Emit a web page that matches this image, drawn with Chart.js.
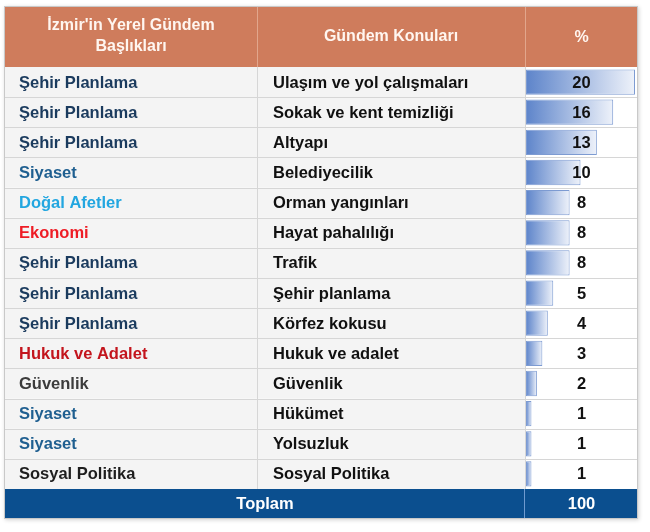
<!DOCTYPE html>
<html>
<head>
<meta charset="utf-8">
<script src="https://cdn.jsdelivr.net/npm/chart.js@4.4.1/dist/chart.umd.min.js"></script>
<style>
  html, body { margin: 0; padding: 0; background: #ffffff; }
  #wrap { width: 650px; height: 532px; }
</style>
</head>
<body>
<div id="wrap"><canvas id="c" width="650" height="532"></canvas></div>
<script>
// ---- data ----
const headers = ["İzmir'in Yerel Gündem\nBaşlıkları", "Gündem Konuları", "%"];
const topics = ["Şehir Planlama", "Şehir Planlama", "Şehir Planlama", "Siyaset", "Doğal Afetler", "Ekonomi", "Şehir Planlama", "Şehir Planlama", "Şehir Planlama", "Hukuk ve Adalet", "Güvenlik", "Siyaset", "Siyaset", "Sosyal Politika"];
const subjects = ["Ulaşım ve yol çalışmaları", "Sokak ve kent temizliği", "Altyapı", "Belediyecilik", "Orman yangınları", "Hayat pahalılığı", "Trafik", "Şehir planlama", "Körfez kokusu", "Hukuk ve adalet", "Güvenlik", "Hükümet", "Yolsuzluk", "Sosyal Politika"];
const percents = [20, 16, 13, 10, 8, 8, 8, 5, 4, 3, 2, 1, 1, 1];
const totalLabel = "Toplam";
const totalValue = 100;

// ---- styles ----
const topicColor = {
  "Şehir Planlama": "#1B3B5E",
  "Siyaset": "#1F5F90",
  "Doğal Afetler": "#22A6E0",
  "Ekonomi": "#EE1C25",
  "Hukuk ve Adalet": "#C3151D",
  "Güvenlik": "#3C3C3C",
  "Sosyal Politika": "#1E1E1E"
};
const FONT = 'bold 16.5px "Liberation Sans", Arial, sans-serif';
const HFONT = 'bold 16px "Liberation Sans", Arial, sans-serif';
const COL = { L: 5, C1: 257, C2: 525, R: 637 };
const HEAD_TOP = 7;
const TOTAL_H = 29;

const rowLabels = subjects.map((s, i) => i);

const tablePlugin = {
  id: 'tablePlugin',
  beforeDraw(chart) {
    const c = chart.ctx;
    const y = chart.scales.y;
    const n = rowLabels.length;
    const rowH = (y.bottom - y.top) / n;
    const top = y.top, bottom = y.bottom;
    c.save();
    c.fillStyle = '#ffffff';
    c.fillRect(0, 0, chart.width, chart.height);
    // frame with soft shadow
    c.save();
    c.shadowColor = 'rgba(0,0,0,0.18)';
    c.shadowBlur = 4;
    c.shadowOffsetX = 1;
    c.shadowOffsetY = 1;
    c.fillStyle = '#ffffff';
    c.fillRect(COL.L - 1, HEAD_TOP - 1, COL.R - COL.L + 2, bottom + TOTAL_H - HEAD_TOP + 2);
    c.restore();
    // header
    c.fillStyle = '#CF7C5C';
    c.fillRect(COL.L, HEAD_TOP, COL.R - COL.L, top - HEAD_TOP);
    // body rows
    for (let i = 0; i < n; i++) {
      const rt = y.getPixelForValue(i) - rowH / 2;
      c.fillStyle = '#F4F4F4';
      c.fillRect(COL.L, rt, COL.C2 - COL.L, rowH);
      c.fillStyle = '#FFFFFF';
      c.fillRect(COL.C2, rt, COL.R - COL.C2, rowH);
    }
    // total row
    c.fillStyle = '#0B4F8F';
    c.fillRect(COL.L, bottom, COL.R - COL.L, TOTAL_H);
    // grid lines body
    c.strokeStyle = '#D6D6D6';
    c.lineWidth = 1;
    c.beginPath();
    for (let i = 1; i < n; i++) {
      const yy = Math.round(y.getPixelForValue(i) - rowH / 2) + 0.5;
      c.moveTo(COL.L, yy); c.lineTo(COL.R, yy);
    }
    [COL.C1, COL.C2].forEach(x => {
      c.moveTo(x + 0.5, top); c.lineTo(x + 0.5, bottom);
    });
    c.stroke();
    // header separators
    c.strokeStyle = '#E2A68C';
    c.beginPath();
    [COL.C1, COL.C2].forEach(x => {
      c.moveTo(x + 0.5, HEAD_TOP); c.lineTo(x + 0.5, top);
    });
    c.stroke();
    // total separator
    c.strokeStyle = '#6F9BD0';
    c.beginPath();
    c.moveTo(COL.C2 - 0.5, bottom); c.lineTo(COL.C2 - 0.5, bottom + TOTAL_H);
    c.stroke();
    // outer border
    c.strokeStyle = '#C9C9C9';
    c.strokeRect(COL.L - 0.5, HEAD_TOP - 0.5, COL.R - COL.L + 1, bottom + TOTAL_H - HEAD_TOP + 1);
    c.restore();
  },
  afterDatasetsDraw(chart) {
    const c = chart.ctx;
    const y = chart.scales.y;
    const top = y.top, bottom = y.bottom;
    const c3 = (COL.C2 + COL.R) / 2 + 0.5;
    c.save();
    c.textBaseline = 'middle';
    // header text
    c.font = HFONT;
    c.fillStyle = '#FFF6F0';
    c.textAlign = 'center';
    const h1 = headers[0].split('\n');
    c.fillText(h1[0], (COL.L + COL.C1) / 2, 26);
    c.fillText(h1[1], (COL.L + COL.C1) / 2, 47);
    c.fillText(headers[1], (COL.C1 + COL.C2) / 2, 37);
    c.fillText(headers[2], c3, 38);
    // body
    c.font = FONT;
    rowLabels.forEach((r, i) => {
      const cy = y.getPixelForValue(i) + 1;
      c.textAlign = 'left';
      c.fillStyle = topicColor[topics[i]] || '#000';
      c.fillText(topics[i], 19, cy);
      c.fillStyle = '#111111';
      c.fillText(subjects[i], 273, cy);
      c.textAlign = 'center';
      c.fillText(String(percents[i]), c3, cy);
    });
    // total
    c.fillStyle = '#FFFFFF';
    c.textAlign = 'center';
    c.fillText(totalLabel, (COL.L + COL.C2) / 2, bottom + TOTAL_H / 2 + 1);
    c.fillText(String(totalValue), c3, bottom + TOTAL_H / 2 + 1);
    c.restore();
  }
};

new Chart(document.getElementById('c'), {
  type: 'bar',
  data: {
    labels: rowLabels,
    datasets: [{
      data: percents,
      backgroundColor: (ctx) => {
        const chart = ctx.chart;
        if (ctx.type !== 'data' || !chart.chartArea || !chart.scales.x) return '#7FA0D8';
        const x = chart.scales.x;
        const x0 = x.getPixelForValue(0);
        const x1 = x.getPixelForValue(ctx.raw);
        const g = chart.ctx.createLinearGradient(x0, 0, Math.max(x1, x0 + 1), 0);
        g.addColorStop(0, '#5D84CA');
        g.addColorStop(1, '#EEF2FA');
        return g;
      },
      borderColor: '#7D9BD2',
      borderWidth: 1,
      borderSkipped: false,
      barPercentage: 0.84,
      categoryPercentage: 1.0
    }]
  },
  options: {
    indexAxis: 'y',
    responsive: false,
    animation: false,
    devicePixelRatio: 1,
    layout: { padding: { left: 526, right: 15, top: 67, bottom: 43 } },
    scales: {
      x: { display: false, min: 0, max: 20 },
      y: { display: false }
    },
    plugins: {
      legend: { display: false },
      tooltip: { enabled: false }
    }
  },
  plugins: [tablePlugin]
});
</script>
</body>
</html>
